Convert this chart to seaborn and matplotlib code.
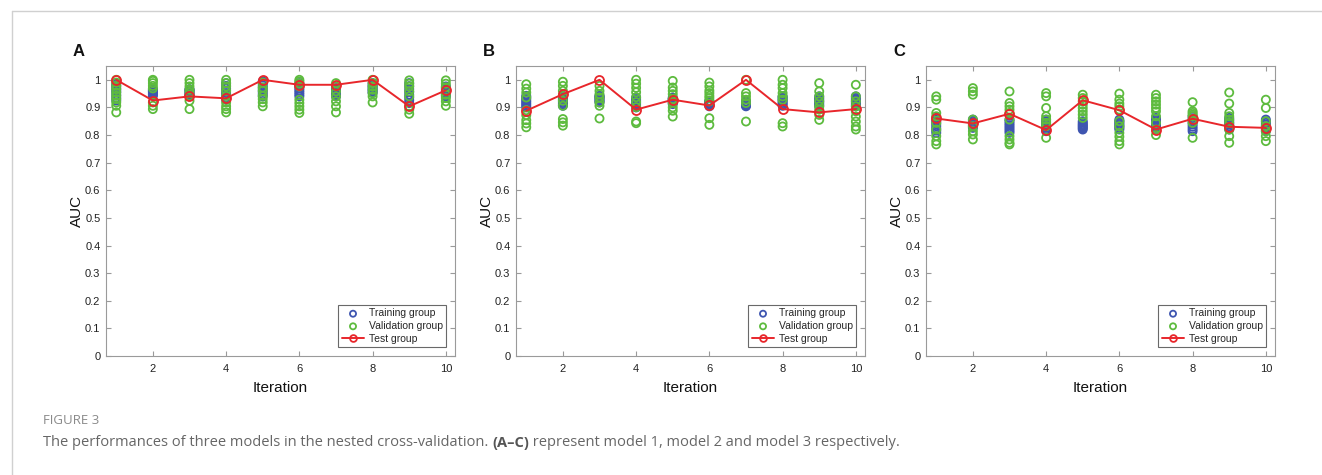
import numpy as np
import pandas as pd
import matplotlib
matplotlib.use("Agg")
import matplotlib.pyplot as plt
import seaborn as sns

sns.set_style("white")
plt.rcParams["font.family"] = ["Liberation Sans", "DejaVu Sans"]

iterations = list(range(1, 11))

# ---- Panel A (model 1) ----
train_A = [
    [0.925, 0.935, 0.945, 0.955, 0.962, 0.970, 0.978, 0.985],
    [0.942, 0.946, 0.950, 0.954, 0.958, 0.962, 0.966, 0.960],
    [0.940, 0.944, 0.948, 0.952, 0.956, 0.960, 0.964, 0.966],
    [0.928, 0.936, 0.944, 0.952, 0.960, 0.968, 0.978, 0.988],
    [0.940, 0.948, 0.956, 0.964, 0.972, 0.980, 0.988, 0.995],
    [0.940, 0.947, 0.954, 0.961, 0.968, 0.975, 0.982, 0.988],
    [0.940, 0.944, 0.948, 0.952, 0.956, 0.960, 0.965, 0.970],
    [0.952, 0.957, 0.962, 0.967, 0.972, 0.977, 0.982, 0.988],
    [0.916, 0.926, 0.936, 0.946, 0.956, 0.966, 0.977, 0.988],
    [0.940, 0.945, 0.950, 0.955, 0.960, 0.965, 0.970, 0.976],
]
val_A = [
    [1.000, 0.990, 0.978, 0.966, 0.954, 0.942, 0.930, 0.918, 0.906, 0.882],
    [1.000, 0.996, 0.988, 0.978, 0.969, 0.918, 0.906, 0.894],
    [1.000, 0.988, 0.976, 0.964, 0.954, 0.942, 0.924, 0.894],
    [1.000, 0.988, 0.976, 0.960, 0.942, 0.918, 0.904, 0.894, 0.882],
    [0.990, 0.972, 0.960, 0.942, 0.930, 0.918, 0.904],
    [1.000, 0.994, 0.986, 0.976, 0.928, 0.916, 0.904, 0.892, 0.880],
    [0.988, 0.976, 0.958, 0.940, 0.922, 0.904, 0.882],
    [1.000, 0.988, 0.976, 0.964, 0.952, 0.940, 0.918],
    [0.998, 0.986, 0.976, 0.958, 0.940, 0.904, 0.892, 0.877],
    [0.998, 0.986, 0.973, 0.946, 0.934, 0.922, 0.906],
]
test_A = [1.000, 0.925, 0.940, 0.933, 1.000, 0.982, 0.982, 1.000, 0.904, 0.962]

# ---- Panel B (model 2) ----
train_B = [
    [0.900, 0.906, 0.912, 0.918, 0.924, 0.930, 0.936, 0.942],
    [0.906, 0.911, 0.916, 0.921, 0.926, 0.931, 0.936, 0.942],
    [0.918, 0.922, 0.926, 0.930, 0.934, 0.938, 0.942, 0.940],
    [0.900, 0.905, 0.910, 0.915, 0.920, 0.925, 0.930, 0.936],
    [0.912, 0.916, 0.920, 0.924, 0.928, 0.932, 0.936, 0.930],
    [0.904, 0.907, 0.910, 0.913, 0.916, 0.919, 0.922, 0.924],
    [0.904, 0.907, 0.910, 0.913, 0.916, 0.919, 0.922, 0.920],
    [0.906, 0.911, 0.916, 0.921, 0.926, 0.931, 0.936, 0.940],
    [0.904, 0.909, 0.914, 0.919, 0.924, 0.929, 0.934, 0.940],
    [0.904, 0.909, 0.914, 0.919, 0.924, 0.929, 0.934, 0.940],
]
val_B = [
    [0.984, 0.968, 0.954, 0.936, 0.890, 0.872, 0.854, 0.842, 0.828],
    [0.993, 0.978, 0.960, 0.942, 0.924, 0.906, 0.858, 0.846, 0.834],
    [0.978, 0.960, 0.948, 0.936, 0.918, 0.906, 0.860],
    [1.000, 0.986, 0.971, 0.955, 0.937, 0.919, 0.901, 0.849, 0.843],
    [0.996, 0.972, 0.960, 0.948, 0.930, 0.918, 0.900, 0.888, 0.867],
    [0.990, 0.976, 0.961, 0.952, 0.942, 0.934, 0.922, 0.861, 0.837],
    [1.000, 0.952, 0.940, 0.928, 0.916, 0.849],
    [1.000, 0.982, 0.970, 0.952, 0.940, 0.928, 0.843, 0.831],
    [0.988, 0.958, 0.940, 0.922, 0.904, 0.892, 0.873, 0.855],
    [0.982, 0.940, 0.922, 0.904, 0.886, 0.867, 0.849, 0.831, 0.820],
]
test_B = [0.888, 0.948, 1.000, 0.892, 0.928, 0.907, 1.000, 0.894, 0.882, 0.894]

# ---- Panel C (model 3) ----
train_C = [
    [0.808, 0.816, 0.824, 0.832, 0.840, 0.848, 0.855, 0.862],
    [0.826, 0.830, 0.834, 0.838, 0.842, 0.846, 0.851, 0.856],
    [0.808, 0.815, 0.822, 0.829, 0.836, 0.843, 0.850, 0.856],
    [0.814, 0.820, 0.826, 0.832, 0.838, 0.844, 0.850, 0.856],
    [0.820, 0.824, 0.828, 0.832, 0.836, 0.840, 0.845, 0.850],
    [0.820, 0.825, 0.830, 0.835, 0.840, 0.845, 0.850, 0.856],
    [0.826, 0.831, 0.836, 0.841, 0.846, 0.851, 0.856, 0.862],
    [0.814, 0.822, 0.830, 0.838, 0.846, 0.854, 0.861, 0.868],
    [0.820, 0.826, 0.832, 0.838, 0.844, 0.850, 0.856, 0.862],
    [0.814, 0.820, 0.826, 0.832, 0.838, 0.844, 0.850, 0.856],
]
val_C = [
    [0.940, 0.928, 0.880, 0.868, 0.844, 0.820, 0.796, 0.778, 0.766],
    [0.970, 0.958, 0.946, 0.856, 0.832, 0.814, 0.802, 0.784],
    [0.958, 0.916, 0.904, 0.892, 0.880, 0.856, 0.796, 0.784, 0.772, 0.766],
    [0.952, 0.940, 0.898, 0.868, 0.856, 0.844, 0.832, 0.790],
    [0.946, 0.934, 0.922, 0.910, 0.898, 0.886, 0.874, 0.862],
    [0.950, 0.928, 0.914, 0.904, 0.892, 0.850, 0.832, 0.808, 0.794, 0.778, 0.766],
    [0.946, 0.934, 0.922, 0.910, 0.898, 0.886, 0.868, 0.844, 0.820, 0.800],
    [0.919, 0.886, 0.880, 0.874, 0.868, 0.856, 0.844, 0.790],
    [0.954, 0.914, 0.880, 0.868, 0.856, 0.844, 0.820, 0.796, 0.772],
    [0.928, 0.898, 0.850, 0.832, 0.814, 0.796, 0.778],
]
test_C = [0.860, 0.842, 0.877, 0.818, 0.926, 0.890, 0.820, 0.859, 0.830, 0.826]

panel_letters = ["A", "B", "C"]
ytick_vals = [0, 0.1, 0.2, 0.3, 0.4, 0.5, 0.6, 0.7, 0.8, 0.9, 1]
ytick_labels = ["0", "0.1", "0.2", "0.3", "0.4", "0.5", "0.6", "0.7", "0.8", "0.9", "1"]
xtick_vals = [2, 4, 6, 8, 10]
legend_labels = ["Training group", "Validation group", "Test group"]

BLUE = "#3E55B0"
GREEN = "#5DBB3E"
RED = "#E8262B"
AXC = "#9a9a9a"


def long_form(groups):
    xs, ys = [], []
    for it, vals in zip(iterations, groups):
        xs += [it] * len(vals)
        ys += list(vals)
    return pd.DataFrame({"Iteration": xs, "AUC": ys})


fig = plt.figure(figsize=(13.22, 4.75), dpi=100)

# page frame lines
fig.add_artist(plt.Line2D([12 / 1322, 1], [1 - 11 / 475, 1 - 11 / 475], color="#d0d0d0", lw=1))
fig.add_artist(plt.Line2D([12 / 1322, 12 / 1322], [0, 1 - 11 / 475], color="#d0d0d0", lw=1))

lefts = [106, 516, 926]
panels = [(train_A, val_A, test_A), (train_B, val_B, test_B), (train_C, val_C, test_C)]

for k, (left_px, (tr, va, te)) in enumerate(zip(lefts, panels)):
    ax = fig.add_axes([left_px / 1322, (475 - 356) / 475, 349 / 1322, 290 / 475])
    dtr = long_form(tr)
    dva = long_form(va)
    dte = pd.DataFrame({"Iteration": iterations, "AUC": te})
    sns.scatterplot(data=dtr, x="Iteration", y="AUC", ax=ax, marker="o", s=34,
                    facecolor="none", edgecolor=BLUE, linewidth=1.3,
                    label=legend_labels[0], zorder=2)
    sns.scatterplot(data=dva, x="Iteration", y="AUC", ax=ax, marker="o", s=34,
                    facecolor="none", edgecolor=GREEN, linewidth=1.3,
                    label=legend_labels[1], zorder=3)
    sns.lineplot(data=dte, x="Iteration", y="AUC", ax=ax, color=RED, lw=1.4,
                 marker="o", markersize=6.5, markerfacecolor="none",
                 markeredgecolor=RED, markeredgewidth=1.3,
                 label=legend_labels[2], zorder=4)

    ax.set_xlim(0.72, 10.25)
    ax.set_ylim(0, 1.05)
    ax.set_xticks(xtick_vals)
    ax.set_xticklabels([str(v) for v in xtick_vals])
    ax.set_yticks(ytick_vals)
    ax.set_yticklabels(ytick_labels)
    ax.tick_params(direction="in", length=3.5, width=0.8, colors=AXC,
                   labelcolor="#222222", labelsize=8,
                   top=True, right=True, bottom=True, left=True, pad=4)
    ax.tick_params(axis="x", pad=6)
    for sp in ax.spines.values():
        sp.set_visible(True)
        sp.set_color(AXC)
        sp.set_linewidth(0.8)
    ax.set_xlabel("Iteration", fontsize=11, color="#111111", labelpad=5)
    ax.set_ylabel("AUC", fontsize=11, color="#111111", labelpad=1)

    leg = ax.legend(loc="lower right", bbox_to_anchor=(0.975, 0.03), fontsize=7.5,
                    frameon=True, fancybox=False, edgecolor="#444444",
                    borderpad=0.35, labelspacing=0.25, handlelength=2.2,
                    handletextpad=0.4, borderaxespad=0.0, markerscale=0.75)
    leg.get_frame().set_linewidth(0.8)

    fig.text((left_px - 33) / 1322, 1 - 52 / 475, panel_letters[k], fontsize=12,
             fontweight="bold", ha="left", va="center", color="#111111")

fig.text(43 / 1322, 1 - 421 / 475, "FIGURE 3", fontsize=9.5, color="#8a8a8a",
         family=["Open Sans", "DejaVu Sans"], ha="left", va="center")
cap_y = 1 - 443 / 475
t1 = fig.text(43 / 1322, cap_y,
              "The performances of three models in the nested cross-validation. ",
              fontsize=10.5, color="#666666", family=["Open Sans", "DejaVu Sans"],
              ha="left", va="center")
fig.canvas.draw()
r = fig.canvas.get_renderer()
bb = t1.get_window_extent(r)
t2 = fig.text(bb.x1 / fig.bbox.width, cap_y, "(A\u2013C)", fontsize=10.5, color="#555555",
              fontweight="bold", family=["Open Sans", "DejaVu Sans"], ha="left", va="center")
bb2 = t2.get_window_extent(r)
fig.text(bb2.x1 / fig.bbox.width, cap_y,
         " represent model 1, model 2 and model 3 respectively.",
         fontsize=10.5, color="#666666", family=["Open Sans", "DejaVu Sans"],
         ha="left", va="center")

fig.savefig("out.png", dpi=100)
